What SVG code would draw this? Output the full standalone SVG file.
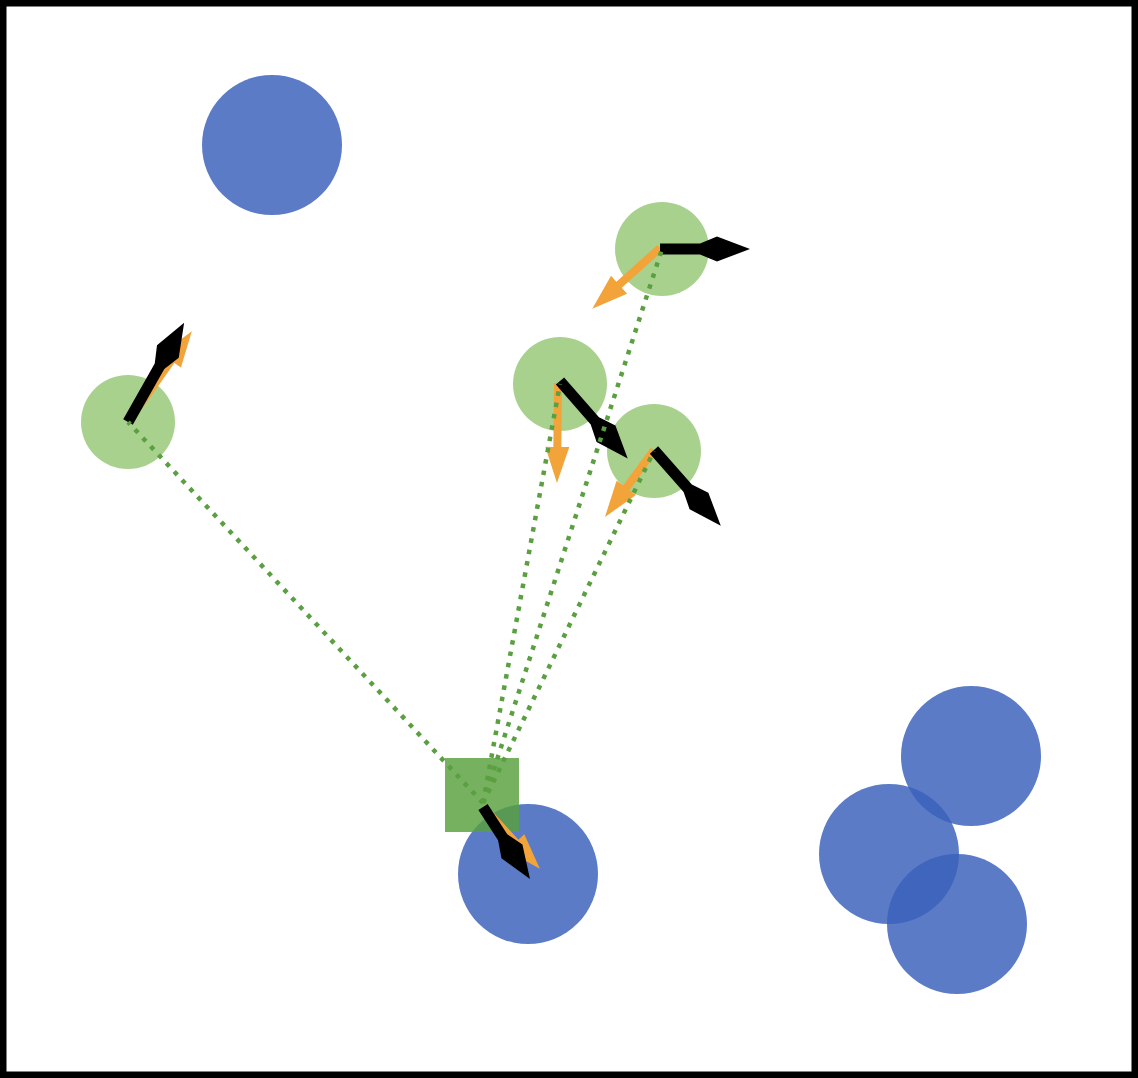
<svg xmlns="http://www.w3.org/2000/svg" width="1138" height="1078" viewBox="0 0 1138 1078">
<style>
.blue{fill:#3A60BB;fill-opacity:0.83}
.lg{fill:#A9D18E}
.sq{fill:#58A03D;fill-opacity:0.82}
.blk{fill:#000}
.org{fill:#F2A43A}
.dot{stroke:#5A9F40;stroke-width:4.5;stroke-dasharray:4.5 7;fill:none}
</style>
<rect x="0" y="0" width="1138" height="1078" fill="#fff"/>
<rect x="3" y="3" width="1132" height="1072" fill="none" stroke="#000" stroke-width="7"/>
<g id="blue1"><circle class="blue" cx="272" cy="145" r="70"/></g>
<g id="blue2"><circle class="blue" cx="528" cy="874" r="70"/></g>
<g id="blue3"><circle class="blue" cx="971" cy="756" r="70"/></g>
<g id="blue4"><circle class="blue" cx="889" cy="854" r="70"/></g>
<g id="blue5"><circle class="blue" cx="957" cy="924" r="70"/></g>
<g id="agent1"><circle class="lg" cx="128" cy="422" r="47"/></g>
<g id="agent2"><circle class="lg" cx="662" cy="249" r="47"/></g>
<g id="agent3"><circle class="lg" cx="560" cy="384" r="47"/></g>
<g id="agent4"><circle class="lg" cx="654" cy="451" r="47"/></g>
<g id="base"><rect class="sq" x="445" y="758" width="74" height="74"/></g>
<g id="arrows">
<polygon class="org" transform="translate(128,422) rotate(-54.9)" points="0,-4 75,-4 75,-12 111,0 75,12 75,4 0,4"/>
<polygon class="blk" transform="translate(128,422) rotate(-60.5)" points="0,-5.5 64,-5.5 81,-12.5 114,0 81,12.5 64,5.5 0,5.5"/>
<polygon class="org" transform="translate(660,248) rotate(138.1)" points="0,-4 55,-4 55,-12 91,0 55,12 55,4 0,4"/>
<polygon class="blk" transform="translate(660,249) rotate(0)" points="0,-5.5 40,-5.5 57,-12.5 90,0 57,12.5 40,5.5 0,5.5"/>
<polygon class="org" transform="translate(558,383) rotate(90.6)" points="0,-4 64,-4 64,-12 100,0 64,12 64,4 0,4"/>
<polygon class="blk" transform="translate(560,381) rotate(48.9)" points="0,-5.5 53,-5.5 70,-12.5 103,0 70,12.5 53,5.5 0,5.5"/>
<polygon class="org" transform="translate(654,450) rotate(126.2)" points="0,-4 47,-4 47,-12 83,0 47,12 47,4 0,4"/>
<polygon class="blk" transform="translate(654,450) rotate(48.6)" points="0,-5.5 51,-5.5 68,-12.5 101,0 68,12.5 51,5.5 0,5.5"/>
<polygon class="org" transform="translate(483,807) rotate(47.4)" points="0,-4 48,-4 48,-12 84,0 48,12 48,4 0,4"/>
<polygon class="blk" transform="translate(483,807) rotate(56.9)" points="0,-5.5 36,-5.5 53,-12.5 86,0 53,12.5 36,5.5 0,5.5"/>
</g>
<g id="connectors">
<line class="dot" x1="483" y1="803" x2="128" y2="422"/>
<line class="dot" x1="483" y1="803" x2="560" y2="384"/>
<line class="dot" x1="483" y1="803" x2="662" y2="249"/>
<line class="dot" x1="483" y1="803" x2="654" y2="451"/>
</g>
</svg>
